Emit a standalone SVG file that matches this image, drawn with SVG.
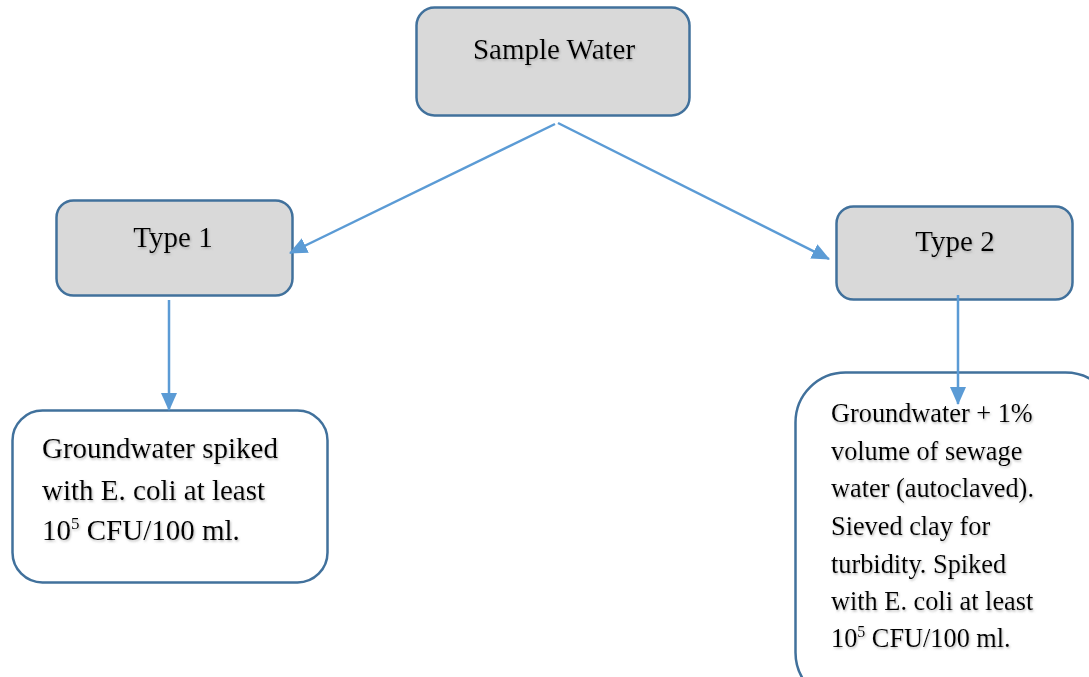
<svg xmlns="http://www.w3.org/2000/svg" width="1089" height="677" viewBox="0 0 1089 677">
  <style>
    .grey { fill: #d9d9d9; stroke: #41719c; stroke-width: 2.5; }
    .white { fill: #ffffff; stroke: #41719c; stroke-width: 2.5; }
    .t { font-family: "Liberation Serif", "Times New Roman", serif; fill: #000; filter: url(#sh); }
    .conn { stroke: #5b9bd5; stroke-width: 2.5; fill: none; marker-end: url(#ah); }
  </style>
  <defs>
    <marker id="ah" markerUnits="userSpaceOnUse" markerWidth="18" markerHeight="16" refX="17" refY="8" orient="auto">
      <path d="M0,0 L18,8 L0,16 Z" fill="#5b9bd5"/>
    </marker>
    <filter id="sh" x="-10%" y="-20%" width="120%" height="150%">
      <feDropShadow dx="1" dy="1.5" stdDeviation="0.8" flood-color="#808080" flood-opacity="0.55"/>
    </filter>
  </defs>
  <rect width="1089" height="677" fill="#ffffff"/>

  <g id="sample-water">
    <rect class="grey" x="416.5" y="7.5" width="273" height="108" rx="18"/>
    <text class="t" x="554" y="59" font-size="29" text-anchor="middle">Sample Water</text>
  </g>

  <g id="type1">
    <rect class="grey" x="56.5" y="200.5" width="236" height="95" rx="17"/>
    <text class="t" x="173" y="247" font-size="29" text-anchor="middle">Type 1</text>
  </g>

  <g id="type2">
    <rect class="grey" x="836.5" y="206.5" width="236" height="93" rx="17"/>
    <text class="t" x="955" y="251" font-size="29" text-anchor="middle">Type 2</text>
  </g>

  <g id="type1-detail">
    <rect class="white" x="12.5" y="410.5" width="315" height="172" rx="30"/>
    <text class="t" font-size="29">
      <tspan x="42" y="458">Groundwater spiked</tspan>
      <tspan x="42" y="500">with E. coli at least</tspan>
      <tspan x="42" y="540">10<tspan font-size="17" dy="-11">5</tspan><tspan dy="11"> CFU/100 ml.</tspan></tspan>
    </text>
  </g>

  <g id="type2-detail">
    <rect class="white" x="795.5" y="372.5" width="320" height="330" rx="50"/>
    <text class="t" font-size="26.3">
      <tspan x="831" y="422">Groundwater + 1%</tspan>
      <tspan x="831" y="460">volume of sewage</tspan>
      <tspan x="831" y="497">water (autoclaved).</tspan>
      <tspan x="831" y="535">Sieved clay for</tspan>
      <tspan x="831" y="573">turbidity. Spiked</tspan>
      <tspan x="831" y="610">with E. coli at least</tspan>
      <tspan x="831" y="647">10<tspan font-size="16" dy="-10">5</tspan><tspan dy="10"> CFU/100 ml.</tspan></tspan>
    </text>
  </g>

  <g id="connectors">
    <line class="conn" x1="555" y1="124" x2="290" y2="253"/>
    <line class="conn" x1="558" y1="123" x2="829" y2="259"/>
    <line class="conn" x1="169" y1="300" x2="169" y2="410"/>
    <line class="conn" x1="958" y1="295" x2="958" y2="404"/>
  </g>
</svg>
